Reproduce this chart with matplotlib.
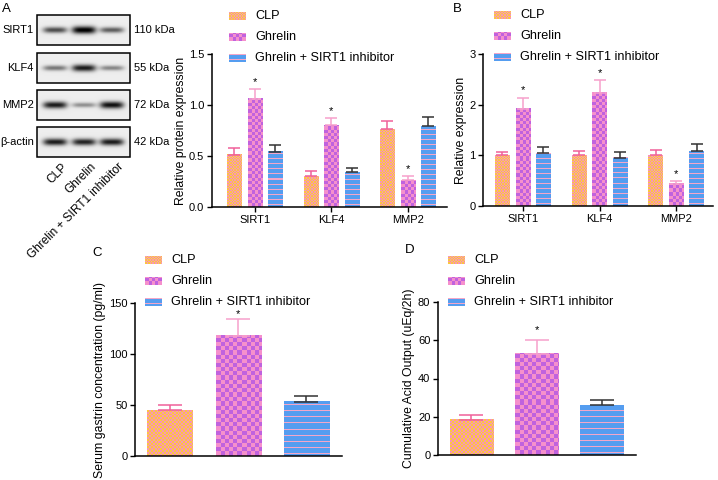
import numpy as np
import matplotlib.pyplot as plt
from matplotlib.colors import to_rgb
from matplotlib.patches import Rectangle

plt.rcParams['font.family'] = ['Liberation Sans', 'DejaVu Sans']

# ---- data ----
groups = ['CLP', 'Ghrelin', 'Ghrelin + SIRT1 inhibitor']
genes = ['SIRT1', 'KLF4', 'MMP2']

# A: relative protein expression (western blot)
a_clp = [0.51, 0.30, 0.76]
a_clp_sd = [0.07, 0.05, 0.08]
a_ghr = [1.06, 0.80, 0.26]
a_ghr_sd = [0.10, 0.07, 0.04]
a_inh = [0.54, 0.34, 0.79]
a_inh_sd = [0.07, 0.04, 0.09]

# B: relative mRNA expression
b_clp = [1.00, 1.00, 1.00]
b_clp_sd = [0.07, 0.08, 0.11]
b_ghr = [1.92, 2.24, 0.44]
b_ghr_sd = [0.22, 0.25, 0.05]
b_inh = [1.04, 0.95, 1.08]
b_inh_sd = [0.13, 0.12, 0.14]

# C: serum gastrin (pg/ml)
c_vals = [45, 118, 53]
c_sd = [5, 16, 6]

# D: cumulative acid output (uEq/2h)
d_vals = [18.5, 53, 26]
d_sd = [2.3, 7, 3]

# blot rows and band strength per lane (CLP, Ghrelin, Ghrelin + inhibitor)
blot_rows = ['SIRT1', 'KLF4', 'MMP2', 'β-actin']
blot_kda = ['110 kDa', '55 kDa', '72 kDa', '42 kDa']
band_sirt1 = [0.65, 0.98, 0.58]
band_klf4 = [0.48, 0.85, 0.42]
band_mmp2 = [0.85, 0.38, 0.90]
band_actin = [0.85, 0.82, 0.85]

# ---- styles ----
fill = {'clp': '#f8ac7c', 'ghr': '#da78d6', 'inh': '#6aa2ec'}
ecol = {'clp': '#f0609a', 'ghr': '#f7a0cc', 'inh': '#333333'}
kinds = ['clp', 'ghr', 'inh']


def texture(ax, x0, x1, y0, y1, kind, scale=1.0, zorder=2):
    """
    Fill a rectangle (data coords) with the GraphPad-like pattern
    """
    p0 = ax.transData.transform((x0, y0))
    p1 = ax.transData.transform((x1, y1))
    w = max(1, int(round(abs(p1[0] - p0[0]))))
    h = max(1, int(round(abs(p1[1] - p0[1]))))
    jj, ii = np.meshgrid(np.arange(w), np.arange(h))
    if kind == 'clp':
        c = 1.4 * scale
        m = ((ii // c + jj // c) % 2).astype(bool)
        ca, cb = '#f894b8', '#fbc83e'
    elif kind == 'ghr':
        c = 3.2 * scale
        m = ((ii // c + jj // c) % 2).astype(bool)
        ca, cb = '#c062de', '#f590cc'
    else:
        per = int(round(5.0 * scale))
        m = (ii % per) == 2
        ca, cb = '#f4a6c8', '#559df0'
    img = np.where(m[..., None], np.array(to_rgb(ca)), np.array(to_rgb(cb)))
    ax.imshow(img, extent=(x0, x1, y0, y1), origin='lower', aspect='auto',
              interpolation='nearest', zorder=zorder)


def px_axes(fig, x0, y0, x1, y1):
    W, H = 718., 480.
    return fig.add_axes([x0 / W, 1 - y1 / H, (x1 - x0) / W, (y1 - y0) / H])


def style(ax):
    for s in ['top', 'right']:
        ax.spines[s].set_visible(False)
    for s in ['left', 'bottom']:
        ax.spines[s].set_linewidth(1.1)
    ax.tick_params(width=1.0, length=3.5, labelsize=8, pad=2)


def grouped(ax, means, sds, ylim, yticks, ylabel, xlim, scale=1.0, capsize=4.3):
    x = np.arange(len(genes))
    w = 0.19
    off = 0.268
    ax.set_xlim(*xlim)
    ax.set_ylim(*ylim)
    bars = []
    for k, (m, s, kind) in enumerate(zip(means, sds, kinds)):
        xs = x + (k - 1) * off
        bc = ax.bar(xs, m, w, color=fill[kind], linewidth=0, zorder=1)
        bars.append(bc)
        ax.errorbar(xs, m, yerr=[np.zeros(len(m)), s], fmt='none', ecolor=ecol[kind],
                    elinewidth=1.1, capsize=capsize, capthick=1.1, zorder=3)
    for bc, kind in zip(bars, kinds):
        for p in bc.patches:
            texture(ax, p.get_x(), p.get_x() + p.get_width(), 0, p.get_height(), kind, scale)
    # significance marks on the Ghrelin bars
    for i in range(len(genes)):
        ax.annotate('*', (x[i], means[1][i] + sds[1][i]), xytext=(0, 1.5),
                    textcoords='offset points', ha='center', va='bottom', fontsize=8)
    ax.set_xlim(*xlim)
    ax.set_ylim(*ylim)
    ax.set_yticks(yticks)
    ax.set_xticks(x)
    ax.set_xticklabels(genes)
    ax.set_ylabel(ylabel, fontsize=8.8, labelpad=1.5)
    style(ax)


def single(ax, vals, sds, ylim, yticks, ylabel, scale=1.3, capsize=8.3, star_off=1.0):
    x = np.arange(len(groups))
    ax.set_xlim(-0.51, 2.52)
    ax.set_ylim(*ylim)
    bc = ax.bar(x, vals, 0.66, color=[fill[k] for k in kinds], linewidth=0, zorder=1)
    for i, kind in enumerate(kinds):
        ax.errorbar(x[i], vals[i], yerr=[[0], [sds[i]]], fmt='none', ecolor=ecol[kind],
                    elinewidth=1.1, capsize=capsize, capthick=1.1, zorder=3)
    for p, kind in zip(bc.patches, kinds):
        texture(ax, p.get_x(), p.get_x() + p.get_width(), 0, p.get_height(), kind, scale)
    ax.annotate('*', (x[1], vals[1] + sds[1]), xytext=(0, star_off),
                textcoords='offset points', ha='center', va='bottom', fontsize=8)
    ax.set_xlim(-0.51, 2.52)
    ax.set_ylim(*ylim)
    ax.set_yticks(yticks)
    ax.set_xticks([])
    ax.set_ylabel(ylabel, fontsize=8.8, labelpad=2)
    style(ax)


fig = plt.figure(figsize=(7.18, 4.80), dpi=100)

axA = px_axes(fig, 212, 54, 447, 207)
grouped(axA, [a_clp, a_ghr, a_inh], [a_clp_sd, a_ghr_sd, a_inh_sd], (0, 1.5),
        [0.0, 0.5, 1.0, 1.5], 'Relative protein expression', (-0.56, 2.51))
axA.set_yticklabels(['0.0', '0.5', '1.0', '1.5'])

axB = px_axes(fig, 483, 54, 713, 206)
grouped(axB, [b_clp, b_ghr, b_inh], [b_clp_sd, b_ghr_sd, b_inh_sd], (0, 3),
        [0, 1, 2, 3], 'Relative expression', (-0.52, 2.48))

axC = px_axes(fig, 135, 303, 342, 456)
single(axC, c_vals, c_sd, (0, 150), [0, 50, 100, 150], 'Serum gastrin concentration (pg/ml)',
       star_off=0.5)

axD = px_axes(fig, 438, 302, 636, 455)
single(axD, d_vals, d_sd, (0, 80), [0, 20, 40, 60, 80], 'Cumulative Acid Output (uEq/2h)',
       star_off=3.5)

# ---- overlay in pixel coordinates: blot, legends, panel letters ----
bg = fig.add_axes([0, 0, 1, 1])
bg.set_xlim(0, 718)
bg.set_ylim(480, 0)
bg.axis('off')

lanes = [55, 84, 112]
tops = [15, 53, 90, 127]
bands = [band_sirt1, band_klf4, band_mmp2, band_actin]
bx0, bx1, bh = 37, 130, 30
for name, kda, top, strength in zip(blot_rows, blot_kda, tops, bands):
    xx, yy = np.meshgrid(np.linspace(bx0, bx1, 186), np.linspace(top, top + bh, 60))
    img = np.full(xx.shape, 0.93)
    cy = top + bh / 2.
    for cx, s in zip(lanes, strength):
        prof = np.exp(-((xx - cx) / 12.0) ** 4) * np.exp(-((yy - cy) / (1.6 + 2.2 * s)) ** 2)
        img -= 0.98 * s * prof
    img = np.clip(img, 0, 1)
    bg.imshow(img, extent=(bx0, bx1, top + bh, top), origin='upper', cmap='gray',
              vmin=0, vmax=1, aspect='auto', interpolation='bilinear', zorder=1)
    bg.add_patch(Rectangle((bx0, top), bx1 - bx0, bh, fill=False, ec='black', lw=1.1, zorder=2))
    bg.text(bx0 - 3, cy, name, ha='right', va='center', fontsize=8)
    bg.text(bx1 + 4, cy, kda, ha='left', va='center', fontsize=8)

for cx, g in zip(lanes, groups):
    bg.text(cx + 6, 161, g, rotation=45, rotation_mode='anchor', ha='right', va='top',
            fontsize=8.6)

# legends: swatch left edge and row centres, in figure pixels
leg_x = [229, 494, 145, 448]
leg_rows = [[16, 37, 58], [15.5, 36, 57], [260, 281, 302], [260, 281, 302]]
for lx, rows in zip(leg_x, leg_rows):
    for g, kind, ry in zip(groups, kinds, rows):
        texture(bg, lx, lx + 17, ry + 4, ry - 4, kind, 1.0, zorder=3)
        bg.text(lx + 26, ry, g, ha='left', va='center', fontsize=9.1)

for letter, lx, ly in [('A', 2, 8.5), ('B', 453, 8.5), ('C', 92, 253), ('D', 405, 250)]:
    bg.text(lx, ly, letter, ha='left', va='center', fontsize=9.5)

bg.set_xlim(0, 718)
bg.set_ylim(480, 0)

fig.savefig('out.png', dpi=100)
